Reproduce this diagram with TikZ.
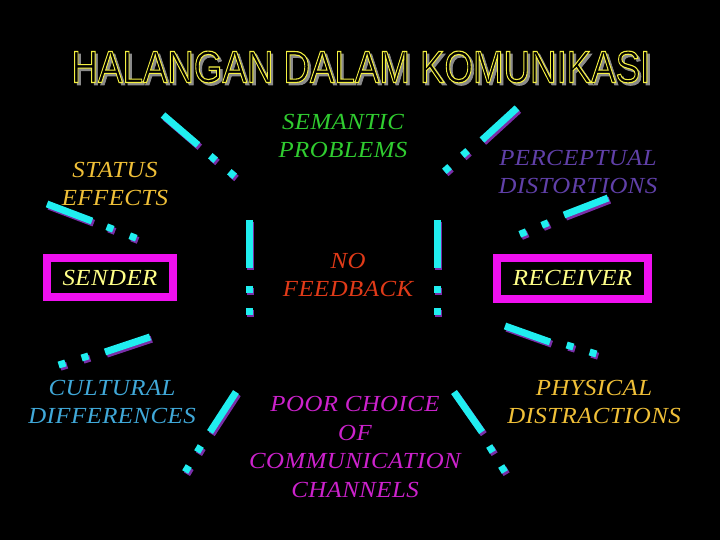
\documentclass[tikz,border=0pt]{standalone}
\usepackage{fontspec}
\setmainfont{Liberation Serif}
\newfontfamily\lblfont[FakeStretch=1.08,LetterSpace=2]{Liberation Serif}
\newfontfamily\titlefont{Liberation Sans}
\usetikzlibrary{calc}
\definecolor{titleyellow}{HTML}{F4F040}
\definecolor{titlegray}{HTML}{8A8A8A}
\definecolor{barcyan}{HTML}{20EEF0}
\definecolor{barshadow}{HTML}{7A2EA8}
\definecolor{boxmagenta}{HTML}{F010F0}
\definecolor{gold}{HTML}{F0C038}
\definecolor{paleyellow}{HTML}{FFFF88}
\definecolor{semgreen}{HTML}{30CC30}
\definecolor{percpurple}{HTML}{6040A8}
\definecolor{fbred}{HTML}{E03A18}
\definecolor{cultblue}{HTML}{40A8D8}
\definecolor{poormag}{HTML}{CC22CC}
\newcommand\dashshape[5]{%
  \draw[line width=7, #5] (#1) -- (#2);
  \draw[line width=7, #5] ($(#3)!-3.5pt!(#4)$) -- ($(#3)!3.5pt!(#4)$);
  \draw[line width=7, #5] ($(#4)!-3.5pt!(#3)$) -- ($(#4)!3.5pt!(#3)$);}
\newcommand\dashset[4]{%
  \begin{scope}[shift={(1.8,2.2)}]\dashshape{#1}{#2}{#3}{#4}{barshadow}\end{scope}
  \dashshape{#1}{#2}{#3}{#4}{barcyan}}
% #1 line width, #2 extra fill colour operator, #3 text
\newcommand\rendertext[3]{\special{pdf:literal direct 2 Tr #1 w #2}#3\special{pdf:literal direct 0 Tr}}
\newcommand\titletext{HALANGAN DALAM KOMUNIKASI}
\begin{document}
\begin{tikzpicture}[x=1pt,y=-1pt,
  lbl/.style={inner sep=0, align=center, font=\lblfont\itshape\fontsize{23}{28.5}\selectfont},
  endbox/.style={lbl, draw=boxmagenta, line width=8, fill=black},
  titlestyle/.style={inner sep=0, font=\titlefont\fontsize{45}{45}\selectfont}]
\fill[black] (0,0) rectangle (720,540);
\useasboundingbox (0,0) rectangle (720,540);
% title
\node[titlestyle, text=titlegray] (titleshadow) at (363.5,69.5) {\scalebox{0.815}[1]{\rendertext{0.8}{}{\titletext}}};
\node[titlestyle, text=titleyellow] (title) at (361,67) {\scalebox{0.815}[1]{\rendertext{1.1}{0 g}{\titletext}}};
% dashes
\dashset{163,115}{198,145}{213,158}{232,174}
\dashset{47,204}{92,221}{110,228}{133,237}
\dashset{517,108}{482,140}{465,153}{447,169}
\dashset{608,198}{564,215}{545,224}{523,233}
\dashset{249,220}{249,268}{249,289}{249,311}
\dashset{437,220}{437,268}{437,289}{437,311}
\dashset{150,337}{105,352}{85,357}{62,364}
\dashset{236,392}{210,432}{199,449}{187,469}
\dashset{454,392}{482,432}{491,449}{503,469}
\dashset{505,326}{550,342}{570,346}{593,353}
% labels
\node[lbl, text=gold] (status) at (115,184) {STATUS\\EFFECTS};
\node[endbox, text=paleyellow, minimum width=126, minimum height=39] (sender) at (110,277.5) {SENDER};
\node[endbox, text=paleyellow, minimum width=151, minimum height=41] (receiver) at (572.5,278.5) {RECEIVER};
\node[lbl, text=semgreen] (semantic) at (343,136) {SEMANTIC\\PROBLEMS};
\node[lbl, text=percpurple] (perceptual) at (578,172) {PERCEPTUAL\\DISTORTIONS};
\node[lbl, text=fbred] (feedback) at (348,275) {NO\\FEEDBACK};
\node[lbl, text=cultblue] (cultural) at (112,402) {CULTURAL\\DIFFERENCES};
\node[lbl, text=poormag] (poor) at (355,447) {POOR CHOICE\\OF\\COMMUNICATION\\CHANNELS};
\node[lbl, text=gold] (physical) at (594,402) {PHYSICAL\\DISTRACTIONS};
\end{tikzpicture}
\end{document}
